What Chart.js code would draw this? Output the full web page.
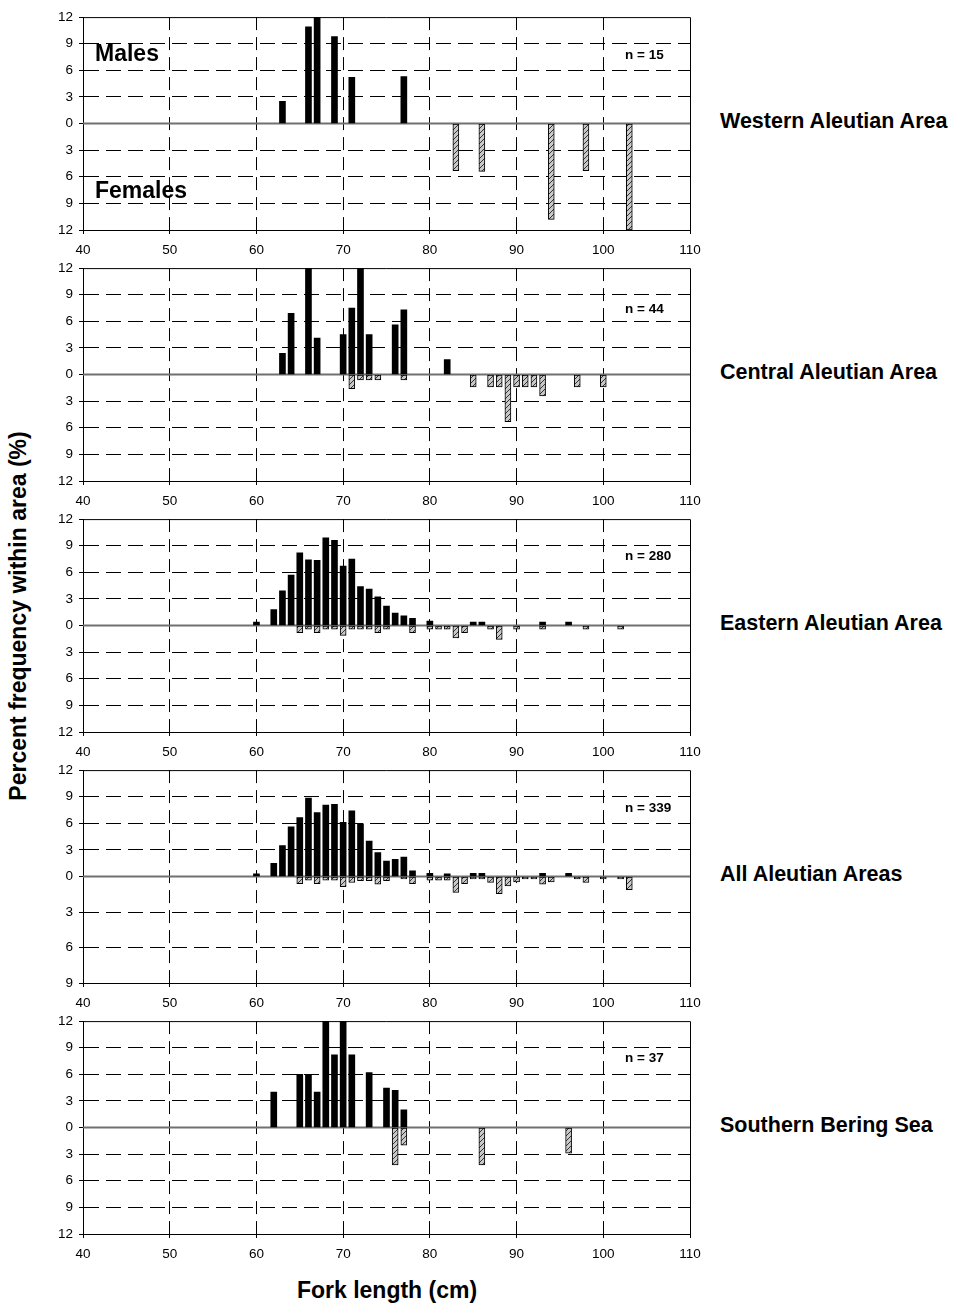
<!DOCTYPE html>
<html>
<head>
<meta charset="utf-8">
<title>Fork length frequency by area</title>
<script src="https://cdn.jsdelivr.net/npm/chart.js@4/dist/chart.umd.min.js"></script>
<style>
  html, body { margin: 0; padding: 0; background: #fff; }
  body { position: relative; width: 960px; height: 1313px; overflow: hidden;
         font-family: "Liberation Sans", Arial, sans-serif; color: #000; }
  canvas { position: absolute; left: 0; }
  .lbl { position: absolute; font-weight: bold; white-space: nowrap; line-height: 1;
         transform: translateY(-50%); }
  .sex { font-size: 23px; left: 95px; }
  .n { font-size: 13.5px; left: 625px; }
  .area { font-size: 21.5px; left: 720px; }
  #ytitle { position: absolute; font-weight: bold; font-size: 23px; white-space: nowrap;
            left: 18px; top: 616px; transform: translate(-50%, -50%) rotate(-90deg); }
  #xtitle { position: absolute; font-weight: bold; font-size: 23px; white-space: nowrap;
            left: 387px; top: 1290px; transform: translate(-50%, -50%); }
</style>
</head>
<body>
<div id="ytitle">Percent frequency within area (%)</div>
<div id="xtitle">Fork length (cm)</div>
<script>
// ---- Data: fork length (cm) and percent frequency, males above / females below ----
const xTicks = [40, 50, 60, 70, 80, 90, 100, 110];
const yTicks = [0, 3, 6, 9, 12];

const westMaleLen = [63, 66, 67, 69, 71, 77];
const westMalePct = [2.5, 10.9, 12.0, 9.8, 5.2, 5.3];
const westFemaleLen = [83, 86, 94, 98, 103];
const westFemalePct = [5.3, 5.4, 10.8, 5.3, 12.0];

const centMaleLen = [63, 64, 66, 67, 70, 71, 72, 73, 76, 77, 82];
const centMalePct = [2.4, 6.9, 12.0, 4.1, 4.5, 7.5, 12.0, 4.5, 5.6, 7.3, 1.7];
const centFemaleLen = [71, 72, 73, 74, 77, 85, 87, 88, 89, 90, 91, 92, 93, 97, 100];
const centFemalePct = [1.6, 0.6, 0.6, 0.6, 0.6, 1.4, 1.4, 1.4, 5.3, 1.4, 1.4, 1.4, 2.4, 1.4, 1.4];

const eastMaleLen = [60, 62, 63, 64, 65, 66, 67, 68, 69, 70, 71, 72, 73, 74, 75, 76, 77, 78, 80, 85, 86, 93, 96];
const eastMalePct = [0.4, 1.8, 3.9, 5.7, 8.2, 7.4, 7.35, 9.9, 9.6, 6.7, 7.5, 4.4, 4.1, 3.25, 2.2, 1.4, 1.1, 0.8, 0.5, 0.4, 0.4, 0.4, 0.4];
const eastFemaleLen = [65, 66, 67, 68, 69, 70, 71, 72, 73, 74, 75, 78, 80, 81, 82, 83, 84, 87, 88, 90, 93, 98, 102];
const eastFemalePct = [0.8, 0.4, 0.8, 0.4, 0.4, 1.1, 0.4, 0.4, 0.4, 0.8, 0.4, 0.8, 0.4, 0.4, 0.4, 1.4, 0.8, 0.4, 1.55, 0.4, 0.4, 0.4, 0.4];

const allMaleLen = [60, 62, 63, 64, 65, 66, 67, 68, 69, 70, 71, 72, 73, 74, 75, 76, 77, 78, 80, 82, 85, 86, 93, 96];
const allMalePct = [0.3, 1.5, 3.5, 5.6, 6.65, 8.85, 7.2, 8.05, 8.15, 6.1, 7.4, 5.95, 4.0, 2.7, 1.75, 1.95, 2.2, 0.65, 0.35, 0.3, 0.35, 0.35, 0.35, 0.35];
const allFemaleLen = [65, 66, 67, 68, 69, 70, 71, 72, 73, 74, 75, 77, 78, 80, 81, 82, 83, 84, 85, 86, 87, 88, 89, 90, 91, 92, 93, 94, 97, 98, 100, 102, 103];
const allFemalePct = [0.6, 0.3, 0.6, 0.3, 0.3, 0.85, 0.5, 0.35, 0.35, 0.65, 0.35, 0.2, 0.6, 0.3, 0.3, 0.3, 1.35, 0.6, 0.2, 0.2, 0.5, 1.45, 0.8, 0.45, 0.2, 0.2, 0.65, 0.45, 0.2, 0.5, 0.2, 0.2, 1.1];

const southMaleLen = [62, 65, 66, 67, 68, 69, 70, 71, 73, 75, 76, 77];
const southMalePct = [4.0, 6.0, 6.0, 4.0, 12.0, 8.2, 12.0, 8.2, 6.2, 4.45, 4.2, 2.0];
const southFemaleLen = [76, 77, 86, 96];
const southFemalePct = [4.2, 2.0, 4.2, 2.9];

const areaNames = ['Western Aleutian Area', 'Central Aleutian Area', 'Eastern Aleutian Area',
                   'All Aleutian Areas', 'Southern Bering Sea'];
const sampleSizes = [15, 44, 280, 339, 37];
const femaleAxisMax = [12, 12, 12, 9, 12];

// ---- Layout ----
const FONT = '"Liberation Sans", Arial, sans-serif';
const PANEL_TOPS = [13, 264, 515, 766, 1017];
const PANEL_H = 217;
const PAD_TOP = 10;
const AXIS_W = 83;
const X_AXIS_H = 30;
const CANVAS_W = 720;
const N_LABEL_Y = [55, 309, 556, 808, 1058];

const panels = [
  [westMaleLen, westMalePct, westFemaleLen, westFemalePct],
  [centMaleLen, centMalePct, centFemaleLen, centFemalePct],
  [eastMaleLen, eastMalePct, eastFemaleLen, eastFemalePct],
  [allMaleLen, allMalePct, allFemaleLen, allFemalePct],
  [southMaleLen, southMalePct, southFemaleLen, southFemalePct]
];

// Hatched light-grey fill for the female bars
function makeHatch() {
  const s = 5;
  const c = document.createElement('canvas');
  c.width = s; c.height = s;
  const g = c.getContext('2d');
  g.fillStyle = '#c8c8c8';
  g.fillRect(0, 0, s, s);
  g.strokeStyle = '#222';
  g.lineWidth = 0.9;
  g.beginPath();
  g.moveTo(-1, s + 1); g.lineTo(s + 1, -1);
  g.moveTo(-1, 1); g.lineTo(1, -1);
  g.moveTo(s - 1, s + 1); g.lineTo(s + 1, s - 1);
  g.stroke();
  return g.createPattern(c, 'repeat');
}
const hatch = makeHatch();

// Solid frame on top/right edges and grey zero line
const framePlugin = {
  id: 'frame',
  beforeDatasetsDraw(chart) {
    const { ctx, chartArea: a } = chart;
    const zeroY = chart.scales.yM.getPixelForValue(0);
    ctx.save();
    ctx.strokeStyle = '#000';
    ctx.lineWidth = 1;
    ctx.beginPath();
    ctx.moveTo(a.left, a.top + 0.5); ctx.lineTo(a.right + 0.5, a.top + 0.5);
    ctx.lineTo(a.right + 0.5, a.bottom);
    ctx.stroke();
    ctx.strokeStyle = '#707070';
    ctx.lineWidth = 2;
    ctx.beginPath();
    ctx.moveTo(a.left, zeroY); ctx.lineTo(a.right, zeroY);
    ctx.stroke();
    ctx.restore();
  }
};

const tickFont = { family: FONT, size: 13.5 };
const clear = 'rgba(0,0,0,0)';
const H_DASH = [15, 7];
const V_DASH = [13, 7];

panels.forEach((p, i) => {
  const [mLen, mPct, fLen, fPct] = p;
  const fMax = femaleAxisMax[i];
  const cv = document.createElement('canvas');
  const h = PAD_TOP + PANEL_H + X_AXIS_H;
  cv.width = CANVAS_W; cv.height = h;
  cv.style.top = (PANEL_TOPS[i] - PAD_TOP) + 'px';
  cv.style.width = CANVAS_W + 'px'; cv.style.height = h + 'px';
  document.body.appendChild(cv);

  new Chart(cv, {
    type: 'bar',
    data: {
      datasets: [
        {
          label: 'Males',
          data: mLen.map((x, k) => ({ x, y: mPct[k] })),
          yAxisID: 'yM',
          backgroundColor: '#000',
          borderWidth: 0,
          barThickness: 6,
          grouped: false
        },
        {
          label: 'Females',
          data: fLen.map((x, k) => ({ x, y: fPct[k] })),
          yAxisID: 'yF',
          backgroundColor: hatch,
          borderColor: '#000',
          borderWidth: 1,
          borderSkipped: false,
          barThickness: 6,
          grouped: false
        }
      ]
    },
    options: {
      responsive: false,
      animation: false,
      devicePixelRatio: 1,
      layout: { padding: { top: PAD_TOP, right: CANVAS_W - 690, left: 0, bottom: 0 } },
      plugins: { legend: { display: false }, tooltip: { enabled: false } },
      scales: {
        x: {
          type: 'linear',
          offset: false,
          min: xTicks[0], max: xTicks[xTicks.length - 1],
          afterBuildTicks: s => { s.ticks = xTicks.map(v => ({ value: v })); },
          ticks: { color: '#000', font: tickFont, padding: 8, maxRotation: 0, autoSkip: false },
          grid: {
            offset: false,
            color: c => (c.tick && (c.tick.value === 40 || c.tick.value === 110)) ? clear : '#000',
            lineWidth: 1, tickLength: 4, tickColor: '#000'
          },
          border: { display: true, color: '#000', width: 1, dash: V_DASH },
          afterFit: s => { s.height = X_AXIS_H; }
        },
        // lower half (females, drawn downward); declared first so it stacks below
        yF: {
          type: 'linear', position: 'left', stack: 'v', stackWeight: 1,
          min: 0, max: fMax, reverse: true,
          afterBuildTicks: s => { s.ticks = yTicks.filter(v => v <= fMax).map(v => ({ value: v })); },
          ticks: { color: '#000', font: tickFont, padding: 6, autoSkip: false,
                   callback: v => (v === 0 ? '' : String(v)) },
          grid: {
            color: c => (c.tick && (c.tick.value === 0 || c.tick.value === fMax)) ? clear : '#000',
            lineWidth: 1, tickLength: 4, tickColor: '#000'
          },
          border: { display: true, color: '#000', width: 1, dash: H_DASH },
          afterFit: s => { s.width = AXIS_W; }
        },
        // upper half (males)
        yM: {
          type: 'linear', position: 'left', stack: 'v', stackWeight: 1,
          min: 0, max: 12,
          afterBuildTicks: s => { s.ticks = yTicks.map(v => ({ value: v })); },
          ticks: { color: '#000', font: tickFont, padding: 6, autoSkip: false },
          grid: {
            color: c => (c.tick && (c.tick.value === 0 || c.tick.value === 12)) ? clear : '#000',
            lineWidth: 1, tickLength: 4, tickColor: '#000'
          },
          border: { display: true, color: '#000', width: 1, dash: H_DASH },
          afterFit: s => { s.width = AXIS_W; }
        }
      }
    },
    plugins: [framePlugin]
  });

  const zeroY = PANEL_TOPS[i] + PANEL_H / 2;
  const area = document.createElement('div');
  area.className = 'lbl area';
  area.style.top = zeroY + 'px';
  area.textContent = areaNames[i];
  document.body.appendChild(area);

  const n = document.createElement('div');
  n.className = 'lbl n';
  n.style.top = N_LABEL_Y[i] + 'px';
  n.textContent = 'n = ' + sampleSizes[i];
  document.body.appendChild(n);
});

// Sex labels in the first panel
[['Males', 53], ['Females', 190]].forEach(([t, y]) => {
  const d = document.createElement('div');
  d.className = 'lbl sex';
  d.style.top = y + 'px';
  d.textContent = t;
  document.body.appendChild(d);
});
</script>
</body>
</html>
